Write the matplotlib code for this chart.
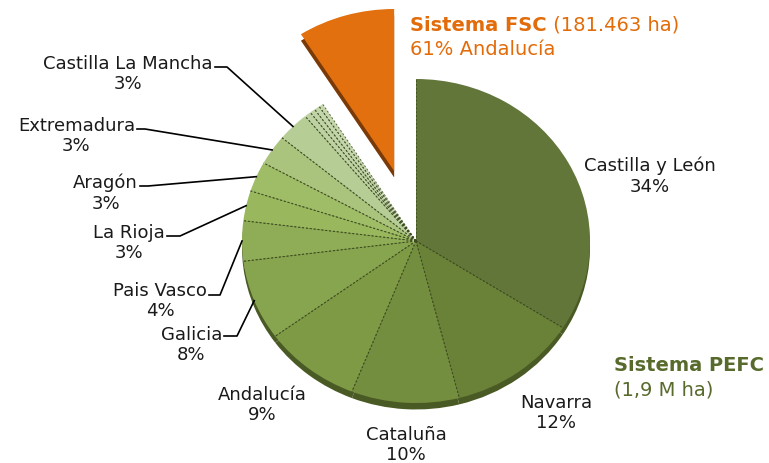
import numpy as np
import matplotlib.pyplot as plt

# Data (percent of the pie)
regions = ['Castilla y León', 'Navarra', 'Cataluña', 'Andalucía', 'Galicia',
           'Pais Vasco', 'La Rioja', 'Aragón', 'Extremadura', 'Castilla La Mancha']
pefc_share = [34, 12, 10, 9, 8, 4, 3, 3, 3, 3]
minor_share = [0.6, 0.5, 0.5, 0.4]      # small unlabelled regions
fsc_share = 9

pefc_colors = ['#62763a', '#6a8138', '#748e40', '#7e9a45', '#87a44e',
               '#8fac56', '#99b85e', '#9fbc67', '#aac47e', '#b7cd96']
minor_colors = ['#bdd1a2', '#c0d3a6', '#c3d5aa', '#c6d7ae']
fsc_color = '#e2700f'

sizes = pefc_share + minor_share + [fsc_share]
colors = pefc_colors + minor_colors + [fsc_color]
shadow_colors = ['#4a5a24'] * (len(sizes) - 1) + ['#7a3a08']
explode = [0] * (len(sizes) - 1) + [0.45]

# pixel -> data helpers (pie centre at pixel 416, 242; radius 174 x 162 px)
CX, CY, RX, RY = 416, 242, 174, 162
def px(x, y):
    return (x - CX) / RX, (CY - y) / RY

fig = plt.figure(figsize=(7.69, 4.64), dpi=100)
ax = fig.add_axes([0, 0, 1, 1])

# 3D rim: same pie shifted down
ax.pie(sizes, colors=shadow_colors, startangle=90, counterclock=False,
       explode=explode, center=(0, -0.04), radius=1.0,
       wedgeprops=dict(linewidth=0))
wedges, _ = ax.pie(sizes, colors=colors, startangle=90, counterclock=False,
                   explode=explode, radius=1.0, wedgeprops=dict(linewidth=0))

# dotted boundaries between green slices
for w in wedges[:-1]:
    for th in (w.theta1, w.theta2):
        t = np.deg2rad(th)
        ax.plot([w.center[0], w.center[0] + w.r * np.cos(t)],
                [w.center[1], w.center[1] + w.r * np.sin(t)],
                ls=(0, (2, 2)), color='#3c4a20', lw=0.7, alpha=0.8, zorder=3)

ax.set_xlim(px(0, 0)[0], px(769, 0)[0])
ax.set_ylim(px(0, 464)[1], px(0, 0)[1])
ax.set_aspect('auto')
ax.axis('off')

txt = dict(fontsize=13, color='#1a1a1a', family='DejaVu Sans')

# labels with leader lines: (block right x, block centre y, leader y, elbow x)
left_layout = {
    'Castilla La Mancha': (213, 74, 68, 227),
    'Extremadura': (135, 136, 130, 145),
    'Aragón': (138, 193, 187, 148),
    'La Rioja': (165, 243, 237, 180),
    'Pais Vasco': (207, 301, 296, 220),
    'Galicia': (222, 345, 337, 237),
}
# labels without leader lines: (centre x, centre y)
free_layout = {
    'Castilla y León': (650, 176),
    'Navarra': (556, 413),
    'Cataluña': (406, 445),
    'Andalucía': (262, 405),
}

for name, share, w in zip(regions, pefc_share, wedges):
    label = f'{name}\n{share}%'
    if name in left_layout:
        xr, yc, yl, xe = left_layout[name]
        ax.text(*px(xr, yc), label, ha='right', va='center',
                multialignment='center', linespacing=1.2, **txt)
        mid = np.deg2rad((w.theta1 + w.theta2) / 2)
        ax.plot([px(xr + 2, yl)[0], px(xe, yl)[0], np.cos(mid)],
                [px(xr + 2, yl)[1], px(xe, yl)[1], np.sin(mid)],
                color='black', lw=1.2, zorder=4)
    else:
        ax.text(*px(*free_layout[name]), label, ha='center', va='center',
                multialignment='center', linespacing=1.2, **txt)

# system titles
orange = '#e26b0a'
green = '#586a2c'
t1 = ax.text(*px(410, 25), 'Sistema FSC', fontsize=14, fontweight='bold',
             color=orange, va='center', ha='left')
ax.annotate(' (181.463 ha)', xy=(1, 0), xycoords=t1, va='bottom', ha='left',
            fontsize=14, color=orange)
ax.text(*px(410, 49), '61% Andalucía', fontsize=14, color=orange,
        va='center', ha='left')

ax.text(*px(614, 366), 'Sistema PEFC', fontsize=14, fontweight='bold',
        color=green, va='center', ha='left')
ax.text(*px(614, 390), '(1,9 M ha)', fontsize=14, color=green,
        va='center', ha='left')

plt.savefig('out.png', dpi=100)
